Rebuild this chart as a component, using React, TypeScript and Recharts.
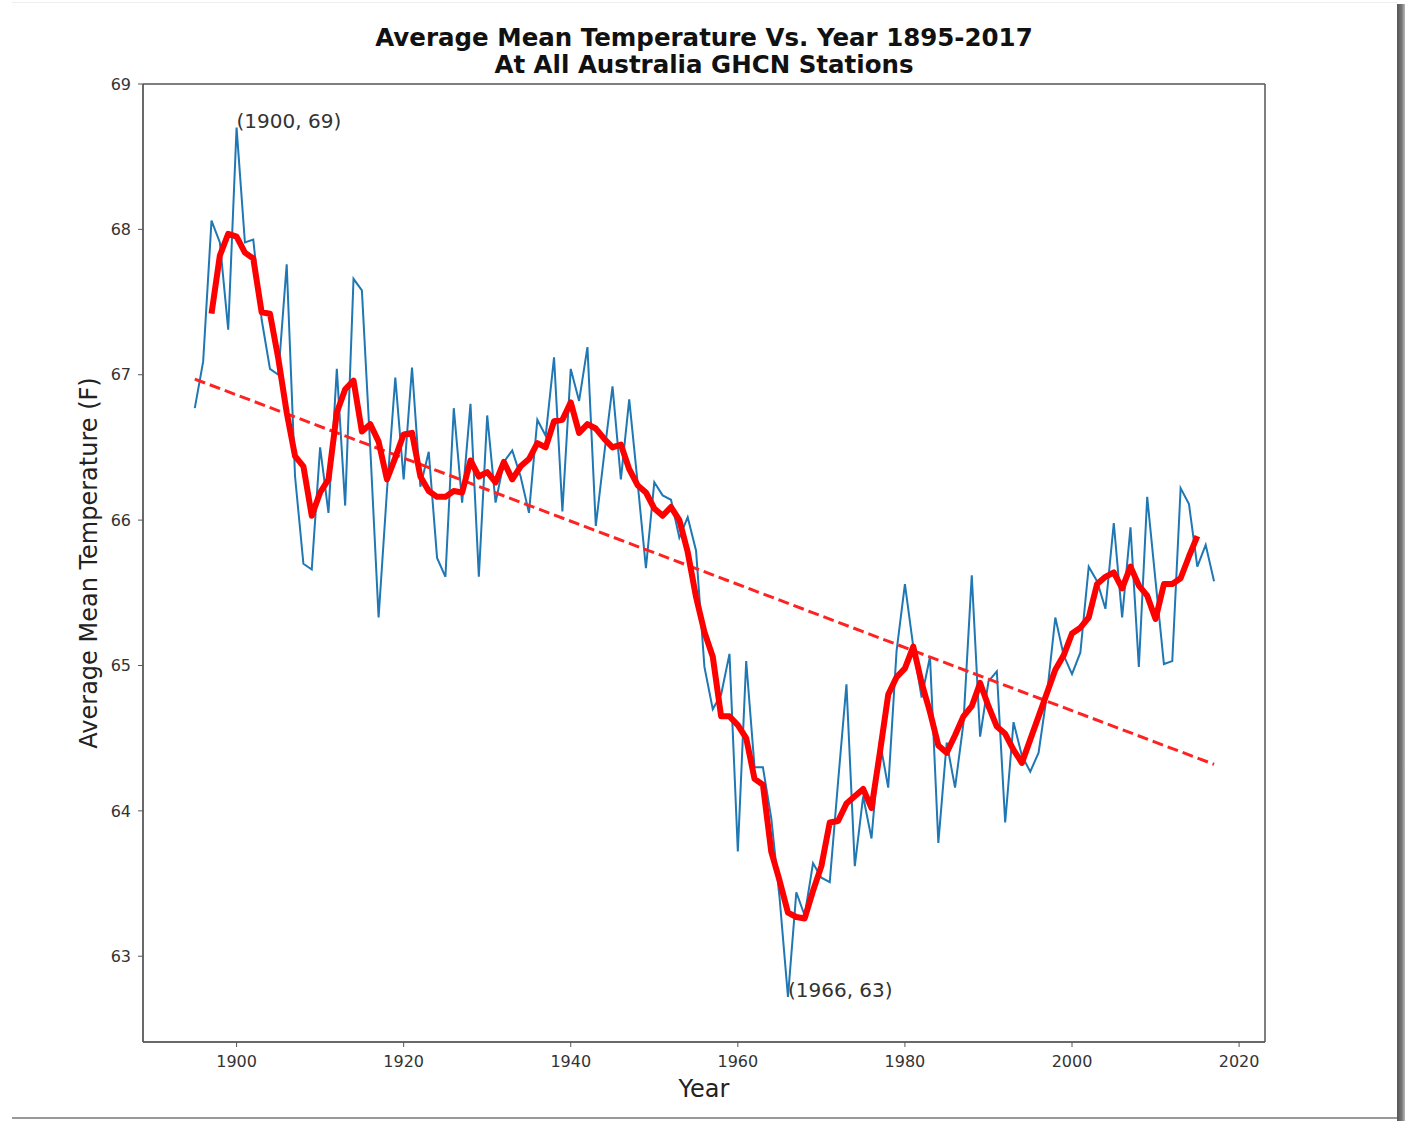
import {
  LineChart,
  Line,
  XAxis,
  YAxis,
  CartesianGrid,
  LabelList,
} from 'recharts'

// yearly mean, 1895-2017
const years = [
  1895, 1896, 1897, 1898, 1899, 1900, 1901, 1902, 1903, 1904,
  1905, 1906, 1907, 1908, 1909, 1910, 1911, 1912, 1913, 1914,
  1915, 1916, 1917, 1918, 1919, 1920, 1921, 1922, 1923, 1924,
  1925, 1926, 1927, 1928, 1929, 1930, 1931, 1932, 1933, 1934,
  1935, 1936, 1937, 1938, 1939, 1940, 1941, 1942, 1943, 1944,
  1945, 1946, 1947, 1948, 1949, 1950, 1951, 1952, 1953, 1954,
  1955, 1956, 1957, 1958, 1959, 1960, 1961, 1962, 1963, 1964,
  1965, 1966, 1967, 1968, 1969, 1970, 1971, 1972, 1973, 1974,
  1975, 1976, 1977, 1978, 1979, 1980, 1981, 1982, 1983, 1984,
  1985, 1986, 1987, 1988, 1989, 1990, 1991, 1992, 1993, 1994,
  1995, 1996, 1997, 1998, 1999, 2000, 2001, 2002, 2003, 2004,
  2005, 2006, 2007, 2008, 2009, 2010, 2011, 2012, 2013, 2014,
  2015, 2016, 2017,
]

const meanTemp = [
  66.77, 67.09, 68.06, 67.91, 67.31, 68.7, 67.91, 67.93, 67.38, 67.04,
  67.0, 67.76, 66.3, 65.7, 65.66, 66.5, 66.05, 67.04, 66.1, 67.66,
  67.58, 66.5, 65.33, 66.2, 66.98, 66.28, 67.05, 66.23, 66.47, 65.74,
  65.61, 66.77, 66.12, 66.8, 65.61, 66.72, 66.12, 66.4, 66.48, 66.3,
  66.05, 66.69, 66.58, 67.12, 66.06, 67.04, 66.82, 67.19, 65.96, 66.45,
  66.92, 66.28, 66.83, 66.26, 65.67, 66.26, 66.17, 66.14, 65.88, 66.02,
  65.79, 64.99, 64.7, 64.8, 65.08, 63.72, 65.03, 64.3, 64.3, 63.95,
  63.4, 62.72, 63.44, 63.28, 63.64, 63.54, 63.51, 64.2, 64.87, 63.62,
  64.1, 63.81, 64.48, 64.16, 65.1, 65.56, 65.13, 64.78, 65.06, 63.78,
  64.47, 64.16, 64.6, 65.62, 64.51, 64.89, 64.96, 63.92, 64.61, 64.38,
  64.27, 64.4, 64.8, 65.33, 65.07, 64.94, 65.09, 65.68, 65.58, 65.39,
  65.98, 65.33, 65.95, 64.99, 66.16, 65.58, 65.01, 65.03, 66.22, 66.11,
  65.68, 65.83, 65.58,
]

// smoothed curve, 1897-2015
const avgStartYear = 1897
const movingAvg = [
  67.42, 67.82, 67.97, 67.95, 67.84, 67.8, 67.43, 67.42, 67.11, 66.74,
  66.44, 66.37, 66.03, 66.19, 66.28, 66.74, 66.9, 66.96, 66.61, 66.66,
  66.54, 66.28, 66.43, 66.59, 66.6, 66.3, 66.2, 66.16, 66.16, 66.2,
  66.19, 66.41, 66.3, 66.33, 66.26, 66.4, 66.28, 66.37, 66.42, 66.53,
  66.5, 66.68, 66.69, 66.81, 66.6, 66.66, 66.63, 66.56, 66.5, 66.52,
  66.35, 66.24, 66.19, 66.08, 66.03, 66.09, 66.0, 65.78, 65.47, 65.23,
  65.06, 64.65, 64.65, 64.59, 64.5, 64.22, 64.18, 63.72, 63.52, 63.3,
  63.27, 63.26, 63.45, 63.62, 63.92, 63.93, 64.05, 64.1, 64.15, 64.02,
  64.4, 64.8, 64.92, 64.98, 65.13, 64.88, 64.68, 64.45, 64.4, 64.52,
  64.65, 64.72, 64.88, 64.72, 64.58, 64.53, 64.42, 64.33, 64.49, 64.65,
  64.81, 64.97, 65.07, 65.22, 65.26, 65.33, 65.56, 65.61, 65.64, 65.53,
  65.68, 65.55, 65.48, 65.32, 65.56, 65.56, 65.6, 65.75, 65.89,
]

// linear trend end points
const trendYears = [1895, 2017]
const trendValues = [66.97, 64.32]

const annotatedYears = [1900, 1966]

const xTicks = [1900, 1920, 1940, 1960, 1980, 2000, 2020]
const yTicks = [63, 64, 65, 66, 67, 68, 69]

const data = years.map((year, i) => {
  const j = year - avgStartYear
  const t = trendYears.indexOf(year)
  return {
    year,
    temp: meanTemp[i],
    avg: j >= 0 && j < movingAvg.length ? movingAvg[j] : null,
    trend: t >= 0 ? trendValues[t] : null,
  }
})

const font = '"DejaVu Sans", sans-serif'
const tickStyle = { fontSize: 16, fill: '#333', fontFamily: font }

function PeakLabel(props: any) {
  const { x, y, value, index } = props
  const year = years[index]
  if (!annotatedYears.includes(year)) return null
  return (
    <text x={x} y={y} fontSize={20} fill="#333" fontFamily={font} textAnchor="start">
      {`(${year}, ${Math.round(value)})`}
    </text>
  )
}

export default function App() {
  return (
    <div
      style={{
        position: 'absolute',
        left: 0,
        top: 0,
        width: 1409,
        height: 1121,
        background: '#fff',
        overflow: 'hidden',
        fontFamily: font,
      }}
    >
      {/* screenshot frame */}
      <div style={{ position: 'absolute', left: 12, top: 2, width: 1386, height: 1, background: '#eee' }} />
      <div style={{ position: 'absolute', left: 12, top: 1117, width: 1386, height: 2, background: '#999' }} />
      <div
        style={{
          position: 'absolute',
          left: 1397,
          top: 4,
          width: 8,
          height: 1117,
          background: 'linear-gradient(to right, #555, #777 60%, #bbb)',
        }}
      />

      <div
        style={{
          position: 'absolute',
          left: 143,
          width: 1122,
          top: 24,
          textAlign: 'center',
          fontWeight: 'bold',
          fontSize: 24.5,
          lineHeight: '27px',
          color: '#111',
        }}
      >
        <div>Average Mean Temperature Vs. Year 1895-2017</div>
        <div>At All Australia GHCN Stations</div>
      </div>

      <div style={{ position: 'absolute', left: 0, top: 0 }}>
        <LineChart
          width={1409}
          height={1121}
          data={data}
          margin={{ top: 84, right: 144, bottom: 39, left: 83 }}
        >
          <CartesianGrid
            stroke="#555"
            strokeWidth={1.5}
            horizontalCoordinatesGenerator={({ offset }: any) => [offset.top, offset.top + offset.height]}
            verticalCoordinatesGenerator={({ offset }: any) => [offset.left, offset.left + offset.width]}
          />
          <XAxis
            dataKey="year"
            type="number"
            domain={[1888.8, 2023.1]}
            ticks={xTicks}
            allowDataOverflow
            height={40}
            tickSize={5}
            tickMargin={9}
            stroke="#555"
            tick={tickStyle}
            label={{ value: 'Year', position: 'insideBottom', offset: -15, fontSize: 24, fill: '#222', fontFamily: font }}
          />
          <YAxis
            type="number"
            domain={[62.41, 69]}
            ticks={yTicks}
            allowDataOverflow
            width={60}
            tickSize={5}
            tickMargin={7}
            stroke="#555"
            tick={tickStyle}
            label={{
              value: 'Average Mean Temperature (F)',
              angle: -90,
              position: 'insideLeft',
              offset: 5,
              fontSize: 24,
              fill: '#222',
              fontFamily: font,
              style: { textAnchor: 'middle' },
            }}
          />
          <Line
            dataKey="temp"
            type="linear"
            stroke="#1f77b4"
            strokeWidth={2}
            dot={false}
            isAnimationActive={false}
          >
            <LabelList dataKey="temp" content={<PeakLabel />} />
          </Line>
          <Line
            dataKey="trend"
            type="linear"
            stroke="#ff2222"
            strokeWidth={3}
            strokeDasharray="11 5"
            dot={false}
            connectNulls
            isAnimationActive={false}
          />
          <Line
            dataKey="avg"
            type="linear"
            stroke="#ff0000"
            strokeWidth={6}
            strokeLinejoin="round"
            dot={false}
            isAnimationActive={false}
          />
        </LineChart>
      </div>
    </div>
  )
}
